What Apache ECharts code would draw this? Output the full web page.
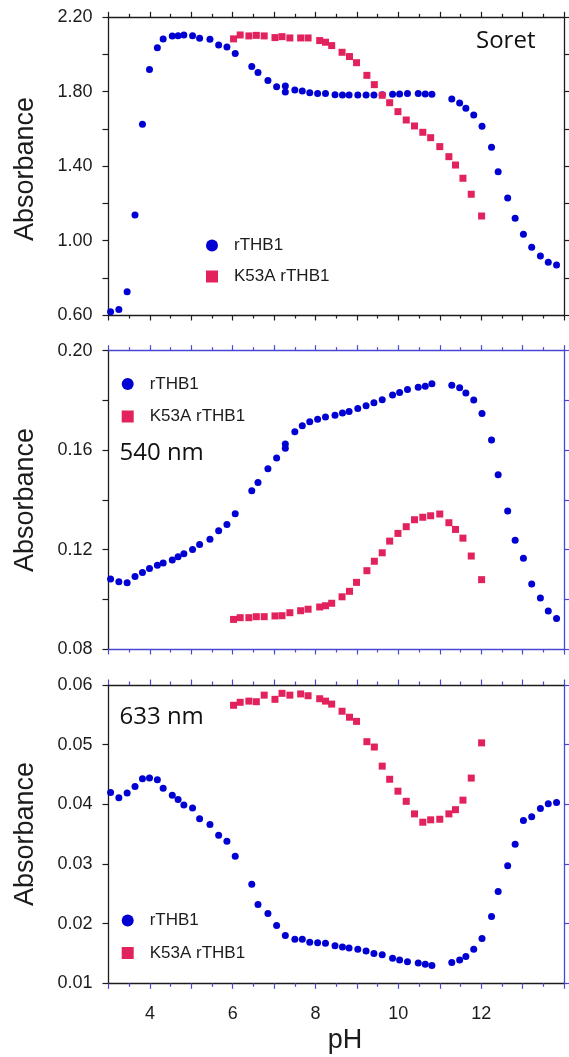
<!DOCTYPE html>
<html>
<head>
<meta charset="utf-8">
<script src="https://cdn.jsdelivr.net/npm/echarts@6/dist/echarts.min.js"></script>
<style>
  html, body { margin: 0; padding: 0; background: #fff; }
  #chart { width: 569px; height: 1057px; }
</style>
</head>
<body>
<div id="chart"></div>
<script>
// pH of each measurement (wild type and K53A mutant)
const phWT = [3.05, 3.25, 3.45, 3.64, 3.82, 3.99, 4.18, 4.32, 4.54, 4.68,
              4.82, 5.03, 5.20, 5.45, 5.66, 5.86, 6.06, 6.46, 6.61, 6.85,
              7.06, 7.27, 7.27, 7.50, 7.68, 7.86, 8.05, 8.24, 8.47, 8.65,
              8.81, 9.02, 9.22, 9.41, 9.61, 9.86, 10.03, 10.22, 10.48, 10.65,
              10.81, 11.29, 11.48, 11.63, 11.82, 12.02, 12.25, 12.41, 12.64, 12.82,
              13.02, 13.22, 13.43, 13.62, 13.82];
const phK53A = [6.02, 6.18, 6.39, 6.57, 6.76, 7.02, 7.19, 7.38, 7.64, 7.82,
                8.10, 8.24, 8.39, 8.64, 8.82, 8.99, 9.24, 9.42, 9.61, 9.79,
                9.99, 10.19, 10.39, 10.59, 10.78, 11.00, 11.22, 11.38, 11.56, 11.76,
                12.01];

// Soret band absorbance
const soretWT = [0.618, 0.630, 0.725, 1.138, 1.625, 1.920, 2.037, 2.084, 2.100, 2.101,
                 2.105, 2.101, 2.087, 2.082, 2.051, 2.040, 2.006, 1.935, 1.903, 1.860,
                 1.827, 1.831, 1.799, 1.809, 1.804, 1.795, 1.791, 1.791, 1.784, 1.783,
                 1.783, 1.783, 1.783, 1.783, 1.784, 1.786, 1.788, 1.791, 1.790, 1.788,
                 1.786, 1.761, 1.740, 1.711, 1.675, 1.614, 1.501, 1.370, 1.229, 1.120,
                 1.034, 0.964, 0.917, 0.883, 0.869];
const soretK53A = [2.084, 2.105, 2.100, 2.103, 2.100, 2.091, 2.096, 2.089, 2.089, 2.089,
                   2.075, 2.066, 2.048, 2.012, 1.989, 1.956, 1.888, 1.838, 1.781, 1.741,
                   1.693, 1.648, 1.616, 1.582, 1.553, 1.505, 1.451, 1.406, 1.335, 1.249,
                   1.132];

// 540 nm absorbance
const a540WT = [0.1082, 0.1071, 0.1067, 0.1092, 0.1108, 0.1124, 0.1137, 0.1146, 0.1158, 0.1171,
                0.1183, 0.1200, 0.1220, 0.1242, 0.1276, 0.1301, 0.1344, 0.1437, 0.1470, 0.1525,
                0.1568, 0.1625, 0.1608, 0.1674, 0.1698, 0.1714, 0.1724, 0.1733, 0.1740, 0.1749,
                0.1755, 0.1767, 0.1779, 0.1791, 0.1803, 0.1822, 0.1832, 0.1844, 0.1853, 0.1857,
                0.1867, 0.1861, 0.1851, 0.1830, 0.1802, 0.1747, 0.1641, 0.1501, 0.1355, 0.1237,
                0.1165, 0.1061, 0.1005, 0.0953, 0.0923];
const a540K53A = [0.0919, 0.0926, 0.0926, 0.0930, 0.0930, 0.0933, 0.0934, 0.0946, 0.0954, 0.0960,
                  0.0969, 0.0974, 0.0984, 0.1010, 0.1032, 0.1068, 0.1115, 0.1153, 0.1187, 0.1234,
                  0.1265, 0.1292, 0.1320, 0.1330, 0.1336, 0.1343, 0.1308, 0.1281, 0.1246, 0.1174,
                  0.1079];

// 633 nm absorbance (no repeat reading at pH 7.27)
const a633WT = [0.0420, 0.0411, 0.0419, 0.0430, 0.0443, 0.0444, 0.0441, 0.0427, 0.0415, 0.0408,
                0.0399, 0.0394, 0.0376, 0.0366, 0.0348, 0.0338, 0.0313, 0.0266, 0.0232, 0.0217,
                0.0197, 0.0180, null, 0.0174, 0.0174, 0.0169, 0.0168, 0.0167, 0.0163, 0.0161,
                0.0159, 0.0157, 0.0154, 0.0150, 0.0148, 0.0142, 0.0139, 0.0136, 0.0134, 0.0132,
                0.0130, 0.0135, 0.0139, 0.0145, 0.0157, 0.0175, 0.0212, 0.0254, 0.0297, 0.0333,
                0.0373, 0.0379, 0.0393, 0.0401, 0.0403];
const a633K53A = [0.0566, 0.0571, 0.0573, 0.0572, 0.0583, 0.0576, 0.0586, 0.0583, 0.0585, 0.0582,
                  0.0577, 0.0573, 0.0568, 0.0556, 0.0546, 0.0539, 0.0505, 0.0496, 0.0464, 0.0442,
                  0.0422, 0.0405, 0.0384, 0.0370, 0.0374, 0.0375, 0.0384, 0.0391, 0.0407, 0.0444,
                  0.0503];

const seriesNames = ['rTHB1', 'K53A rTHB1'];
const panelLabels = ['Soret', '540 nm', '633 nm'];
const xTickLabels = [4, 6, 8, 10, 12];
const yRanges = [
  { min: 0.6, max: 2.2, step: 0.2, labelStep: 0.4 },
  { min: 0.08, max: 0.2, step: 0.02, labelStep: 0.04 },
  { min: 0.01, max: 0.06, step: 0.01, labelStep: 0.01 }
];

const BLUE = '#0000d2';
const PINK = '#e2225d';
const INK = '#1c1c1c';
const AXIS_BLUE = '#4848d4';
const FONT = '"Liberation Sans", Arial, sans-serif';

const pairs = (xs, ys) => xs.map((x, i) => [x, ys[i]]).filter(p => p[1] !== null);

const grids = [
  { left: 108.5, top: 17.3, width: 455.5, height: 297.7 },
  { left: 108.5, top: 350.7, width: 455.5, height: 298.3 },
  { left: 108.5, top: 685, width: 455.5, height: 298.3 }
];

// Axis colours per panel: [bottom line, bottom ticks, top line, top ticks, left, right]
const frameColors = [
  [INK, INK, INK, INK, INK, INK],
  [AXIS_BLUE, AXIS_BLUE, AXIS_BLUE, AXIS_BLUE, INK, AXIS_BLUE],
  [INK, AXIS_BLUE, INK, AXIS_BLUE, INK, AXIS_BLUE]
];

const xAxes = [];
const yAxes = [];
grids.forEach((g, i) => {
  const c = frameColors[i];
  ['bottom', 'top'].forEach((pos, j) => {
    xAxes.push({
      type: 'value', gridIndex: i, position: pos, min: 3, max: 14, interval: 1,
      axisLine: { show: true, onZero: false, lineStyle: { color: c[j * 2], width: 1.3 } },
      axisTick: { show: true, length: 5.5, lineStyle: { color: c[j * 2 + 1], width: 1.2 } },
      minorTick: { show: true, splitNumber: 2, length: 3.5, lineStyle: { color: c[j * 2 + 1], width: 1.2 } },
      splitLine: { show: false },
      axisLabel: {
        show: i === 2 && pos === 'bottom', margin: 22,
        fontFamily: FONT, fontSize: 18, color: INK,
        formatter: v => xTickLabels.indexOf(Math.round(v)) >= 0 ? String(Math.round(v)) : ''
      }
    });
  });
  const r = yRanges[i];
  ['left', 'right'].forEach((pos, j) => {
    yAxes.push({
      type: 'value', gridIndex: i, position: pos, min: r.min, max: r.max, interval: r.step,
      axisLine: { show: true, onZero: false, lineStyle: { color: c[4 + j], width: 1.3 } },
      axisTick: { show: true, length: 6, lineStyle: { color: c[4 + j], width: 1.2 } },
      splitLine: { show: false },
      axisLabel: {
        show: pos === 'left', margin: 16,
        fontFamily: FONT, fontSize: 18, color: INK,
        formatter: v => {
          const k = Math.round((v - r.min) / r.step);
          const every = Math.round(r.labelStep / r.step);
          return k % every === 0 ? v.toFixed(2) : '';
        }
      }
    });
  });
});

const panelData = [[soretWT, soretK53A], [a540WT, a540K53A], [a633WT, a633K53A]];
const series = [];
panelData.forEach((d, i) => {
  series.push({
    name: seriesNames[0], type: 'scatter', xAxisIndex: 2 * i, yAxisIndex: 2 * i,
    symbol: 'circle', symbolSize: 7, itemStyle: { color: BLUE, opacity: 1 },
    data: pairs(phWT, d[0]), silent: true
  });
  series.push({
    name: seriesNames[1], type: 'scatter', xAxisIndex: 2 * i, yAxisIndex: 2 * i,
    symbol: 'rect', symbolSize: 7, itemStyle: { color: PINK, opacity: 1 },
    data: pairs(phK53A, d[1]), silent: true
  });
});

const legendPos = [
  { left: 206, top: 237, gap: 14 },
  { left: 121.7, top: 375.5, gap: 15.5 },
  { left: 121.7, top: 912, gap: 15.5 }
];
const legends = legendPos.map(p => ({
  left: p.left, top: p.top, orient: 'vertical', padding: 0,
  itemWidth: 12, itemHeight: 12, itemGap: p.gap, selectedMode: false,
  textStyle: { fontFamily: FONT, fontSize: 17, color: INK, padding: [0, 0, 0, 11], lineHeight: 17 },
  data: [{ name: seriesNames[0], icon: 'circle' }, { name: seriesNames[1], icon: 'rect' }]
}));

const titleFont = '"Open Sans", "Noto Sans", sans-serif';
const graphics = [
  { type: 'text', left: 476, top: 29, style: { text: panelLabels[0], font: '24px ' + titleFont, fill: '#111' } },
  { type: 'text', left: 119.5, top: 441.5, style: { text: panelLabels[1], font: '24px ' + titleFont, fill: '#111' } },
  { type: 'text', left: 119.5, top: 705, style: { text: panelLabels[2], font: '24px ' + titleFont, fill: '#111' } },
  { type: 'text', x: 345, y: 1041, style: { text: 'pH', font: '27px ' + FONT, fill: INK, align: 'center', verticalAlign: 'middle' } }
];
[169, 500, 834].forEach(cy => {
  graphics.push({
    type: 'text', x: 25.5, y: cy, rotation: Math.PI / 2,
    style: { text: 'Absorbance', font: '27px ' + FONT, fill: INK, align: 'center', verticalAlign: 'middle' }
  });
});

const chart = echarts.init(document.getElementById('chart'), null, { renderer: 'canvas' });
chart.setOption({
  animation: false,
  backgroundColor: '#ffffff',
  grid: grids.map(g => Object.assign({ containLabel: false }, g)),
  xAxis: xAxes,
  yAxis: yAxes,
  legend: legends,
  series: series,
  graphic: graphics
});
</script>
</body>
</html>
